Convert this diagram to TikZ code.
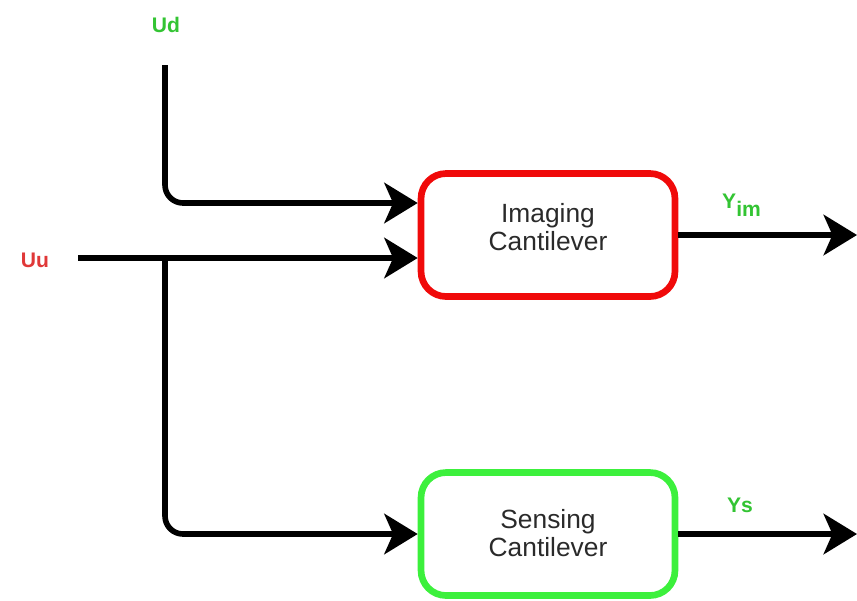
\documentclass[tikz,border=0pt]{standalone}
\usepackage{fontspec}
\setmainfont{Liberation Sans}
\usepackage{tikz}
\usetikzlibrary{arrows.meta}
\definecolor{boxred}{HTML}{F00A0A}
\definecolor{boxgreen}{HTML}{3CF03C}
\definecolor{lblgreen}{HTML}{33C433}
\definecolor{lblred}{HTML}{E03838}
\definecolor{txtgray}{HTML}{2A2A2A}

\begin{document}
\begin{tikzpicture}[x=0.02cm, y=-0.02cm,
    block/.style={draw, line width=3.8pt, rounded corners=0.5cm, minimum width=5.08cm,
      minimum height=2.46cm, align=center, text=txtgray, font=\fontsize{15}{16}\selectfont},
    flow/.style={line width=3.2pt, -{Stealth[length=19pt, width=23pt, inset=5pt]}},
    lbl/.style={font=\bfseries\fontsize{12}{14}\selectfont}]
    \useasboundingbox (0,0) rectangle (857,600);
    \node[block, draw=boxred, text depth=9pt] (img) at (548, 235) {Imaging\\Cantilever};
    \node[block, draw=boxgreen, text depth=1pt] (sen) at (548, 534) {Sensing\\Cantilever};
    \node[lbl, text=lblgreen] (ud) at (166, 25) {Ud};
    \node[lbl, text=lblred] (uu) at (35, 260) {Uu};
    \node[lbl, text=lblgreen] (yim) at (742, 205) {Y$_{\textbf{im}}$};
    \node[lbl, text=lblgreen] (ys) at (740, 505) {Ys};
    \coordinate (udin) at (165, 65);
    \coordinate (uuin) at (78, 258);
    \coordinate (split) at (165, 258);
    \coordinate (imgout) at (857, 237);
    \coordinate (senout) at (857, 537);
    \draw [flow, rounded corners=0.36cm] (udin) |- ([yshift=0.64cm]img.west);
    \draw [flow] (uuin) -- ([yshift=-0.46cm]img.west);
    \draw [flow, rounded corners=0.36cm] (split) |- (sen.west);
    \draw [flow] (img.east) -- (img.east -| imgout);
    \draw [flow] (sen.east) -- (sen.east -| senout);
\end{tikzpicture}
\end{document}
